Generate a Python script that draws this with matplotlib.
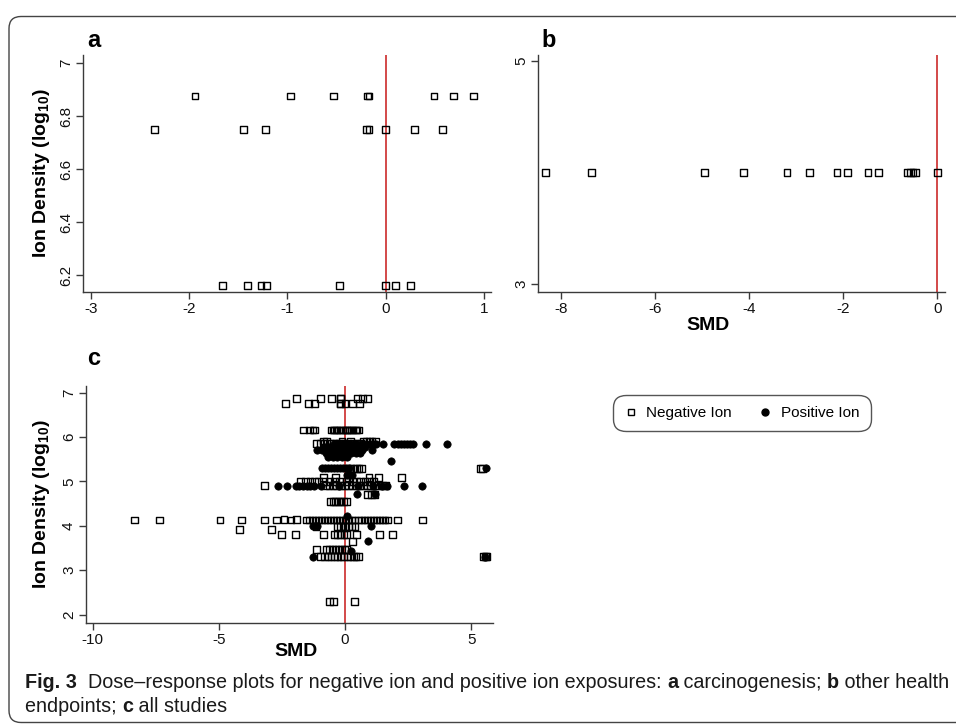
import numpy as np
import matplotlib
matplotlib.use('Agg')
import matplotlib.pyplot as plt
from matplotlib.lines import Line2D
from matplotlib.patches import FancyBboxPatch

plt.rcParams['font.family'] = ['Liberation Sans', 'DejaVu Sans']
plt.rcParams['mathtext.fontset'] = 'custom'
plt.rcParams['mathtext.rm'] = 'Liberation Sans'
plt.rcParams['mathtext.bf'] = 'Liberation Sans:bold'
plt.rcParams['axes.unicode_minus'] = False

# panel a: carcinogenesis (negative ion only)
a_neg_x = [-1.94, -0.97, -0.53, -0.19, -0.17, 0.49, 0.69, 0.89,
           -2.35, -1.45, -1.22, -0.20, -0.17, 0.00, 0.29, 0.58,
           -1.66, -1.41, -1.27, -1.21, -0.47, 0.00, 0.10, 0.25]
a_neg_y = [6.875] * 8 + [6.75] * 8 + [6.16] * 8

# panel b: other health endpoints
b_neg_x = [-8.34, -7.37, -4.96, -4.12, -3.20, -2.72, -2.14, -1.92,
           -1.48, -1.26, -0.64, -0.57, -0.52, -0.46, 0.00]
b_neg_y = [4.0] * 15

# panel c: all studies, rows of (ion density, SMD values)
c_neg_rows = [
    (6.875, [-1.94, -0.97, -0.53, -0.19, -0.17, 0.49, 0.69, 0.89]),
    (6.75, [-2.35, -1.45, -1.22, -0.20, -0.17, 0.00, 0.29, 0.58]),
    (6.16, [-1.66, -1.41, -1.27, -1.21, -0.56, -0.47, -0.41, -0.33, -0.26, -0.17,
            -0.09, 0.00, 0.06, 0.10, 0.17, 0.25, 0.31, 0.40, 0.47, 0.55]),
    (5.91, [-0.86, -0.74, -0.12, 0.22, 0.73, 0.84, 0.96, 1.07, 1.19]),
    (5.85, [-1.12, -0.98, -0.81, -0.63, -0.47, -0.33, -0.21, -0.06, 0.08, 0.31, 0.47, 0.62]),
    (5.30, [0.22, 0.33, 0.44, 0.55, 0.66, 5.36, 5.46]),
    (5.08, [-0.86, -0.37, 0.14, 0.95, 1.33, 2.22]),
    (5.00, [-1.78, -1.58, -1.39, -1.21, -1.06, -0.84, -0.62, -0.41, -0.22, 0.05,
            0.28, 0.45, 0.62, 0.79, 0.97, 1.12]),
    (4.90, [-3.20, -0.79, -0.64, -0.48, -0.33, -0.18, -0.02, 0.14, 0.29, 0.44,
            0.58, 0.73, 0.88, 1.02, 1.17, 1.31, 1.47, 1.60]),
    (4.71, [0.90, 1.04, 1.16]),
    (4.54, [-0.59, -0.47, -0.37, -0.27, -0.16, -0.06, 0.04]),
    (4.15, [-2.42, -1.91]),
    (4.13, [-8.34, -7.37, -4.96, -4.12, -3.20, -2.72, -2.14, -1.52, -1.41, -1.29,
            -1.18, -1.05, -0.93, -0.81, -0.70, -0.58, -0.45, -0.34, -0.22, -0.11,
            0.02, 0.13, 0.26, 0.37, 0.53, 0.64, 0.76, 0.88, 1.00, 1.12,
            1.24, 1.36, 1.47, 1.58, 1.70, 2.09, 3.06]),
    (3.99, [-1.15, -0.31, -0.19, -0.08, 0.03, 0.13, 0.24, 0.39]),
    (3.92, [-4.20, -2.93]),
    (3.81, [-2.51, -1.96, -0.85, -0.43, -0.31, -0.17, -0.04, 0.07, 0.46, 1.37, 1.88]),
    (3.65, [0.29]),
    (3.47, [-1.13, -0.74, -0.62, -0.51, -0.38, -0.26, -0.13, -0.01, 0.07]),
    (3.30, [-0.96, -0.81, -0.68, -0.56, -0.43, -0.31, -0.18, -0.06, 0.08, 0.20,
            0.32, 0.43, 0.53, 5.50, 5.56, 5.61]),
    (2.29, [-0.62, -0.46, 0.37]),
]
c_pos_rows = [
    (5.85, [-0.42, -0.28, -0.13, 0.02, 0.17, 0.33, 0.49, 0.66, 0.83, 0.98, 1.13,
            1.22, 1.52, 1.95, 2.08, 2.20, 2.33, 2.45, 2.58, 2.70, 3.19, 4.03]),
    (5.78, [-0.83, -0.62, -0.43, -0.22, -0.04, 0.16, 0.37, 0.58, 0.79]),
    (5.71, [-1.12, -0.91, -0.72, -0.52, -0.31, -0.12, 0.09, 0.28, 0.49, 0.68, 1.06]),
    (5.63, [-0.74, -0.56, -0.36, -0.17, 0.04, 0.23, 0.44, 0.61]),
    (5.55, [-0.69, -0.49, -0.31, -0.11, 0.07]),
    (5.47, [1.82]),
    (5.30, [-0.92, -0.81, -0.69, -0.57, -0.45, -0.33, -0.22, -0.10, 0.03, 0.14, 5.60]),
    (5.14, [0.07, 0.26]),
    (4.90, [-2.67, -2.29, -1.94, -1.81, -1.66, -1.52, -1.39, -1.25, -0.94, -0.23,
            0.52, 1.09, 1.45, 1.66, 2.34, 3.06]),
    (4.71, [0.46, 1.19]),
    (4.23, [0.07]),
    (4.00, [-1.29, -1.13, 1.03]),
    (3.65, [0.90]),
    (3.43, [0.24]),
    (3.30, [-1.29, 5.56]),
]

caption_l1 = [("Fig. 3", True),
              ("  Dose\u2013response plots for negative ion and positive ion exposures: ", False),
              ("a", True), (" carcinogenesis; ", False), ("b", True), (" other health", False)]
caption_l2 = [("endpoints; ", False), ("c", True), (" all studies", False)]

W, H = 956, 724
AX_COL = '#3a3a3a'
RED = '#d03a3a'
YLAB = r'Ion Density (log$_{\mathbf{10}}$)'


def rows_to_xy(rows):
    xs, ys = [], []
    for y, vals in rows:
        xs += vals
        ys += [y] * len(vals)
    return np.array(xs), np.array(ys)


def px_axes(fig, left, top, right, bottom):
    return fig.add_axes([left / W, 1 - bottom / H, (right - left) / W, (bottom - top) / H])


def style(ax, xticks, yticks, yfmt=None):
    for s in ['top', 'right']:
        ax.spines[s].set_visible(False)
    for s in ['left', 'bottom']:
        ax.spines[s].set_color(AX_COL)
        ax.spines[s].set_linewidth(1.0)
    ax.set_xticks(xticks)
    ax.set_yticks(yticks)
    if yfmt:
        ax.set_yticklabels(yfmt)
    ax.tick_params(length=5, width=1, color=AX_COL, labelsize=11, labelcolor='#111111', pad=2)
    ax.tick_params(axis='y', labelrotation=90)
    for lab in ax.get_yticklabels():
        lab.set_va('center')
    ax.axvline(0, color=RED, lw=1.3, zorder=2)


def neg(ax, x, y):
    ax.scatter(x, y, marker='s', s=24, facecolors='none', edgecolors='black',
               linewidths=1.0, zorder=3)


def pos(ax, x, y):
    ax.scatter(x, y, marker='o', s=28, facecolors='black', edgecolors='black',
               linewidths=0.5, zorder=4)


fig = plt.figure(figsize=(W / 100, H / 100), dpi=100)

# outer frame
frame = FancyBboxPatch((0.09, 0.015), 9.9, 7.06, boxstyle='round,pad=0,rounding_size=0.12',
                       transform=fig.dpi_scale_trans, fill=False, ec='#444444', lw=1.0)
fig.add_artist(frame)

# panel a
ax_a = px_axes(fig, 83, 55, 491, 292)
neg(ax_a, a_neg_x, a_neg_y)
ax_a.set_xlim(-3.08, 1.07)
ax_a.set_ylim(6.136, 7.03)
style(ax_a, [-3, -2, -1, 0, 1], [6.2, 6.4, 6.6, 6.8, 7.0], ['6.2', '6.4', '6.6', '6.8', '7'])
ax_a.set_ylabel(YLAB, fontsize=14, fontweight='bold')
ax_a.yaxis.set_label_coords((42 - 83) / 408, 0.5)
ax_a.yaxis.label.set_va('center')

# panel b
ax_b = px_axes(fig, 538, 55, 945, 292)
neg(ax_b, b_neg_x, b_neg_y)
ax_b.set_xlim(-8.5, 0.16)
ax_b.set_ylim(2.93, 5.05)
style(ax_b, [-8, -6, -4, -2, 0], [3, 5])
ax_b.set_xlabel('SMD', fontsize=14, fontweight='bold')
ax_b.xaxis.set_label_coords((708 - 538) / 407, (292 - 325) / 237)
ax_b.xaxis.label.set_va('center')

# panel c
ax_c = px_axes(fig, 85.7, 386, 492.7, 623)
cx, cy = rows_to_xy(c_neg_rows)
neg(ax_c, cx, cy)
px, py = rows_to_xy(c_pos_rows)
pos(ax_c, px, py)
ax_c.set_xlim(-10.28, 5.85)
ax_c.set_ylim(1.81, 7.15)
style(ax_c, [-10, -5, 0, 5], [2, 3, 4, 5, 6, 7])
ax_c.set_ylabel(YLAB, fontsize=14, fontweight='bold')
ax_c.yaxis.set_label_coords((42 - 85.7) / 407, 0.5)
ax_c.yaxis.label.set_va('center')
ax_c.set_xlabel('SMD', fontsize=14, fontweight='bold')
ax_c.xaxis.set_label_coords((296 - 85.7) / 407, (623 - 651.5) / 237)
ax_c.xaxis.label.set_va('center')

# panel letters
for letter, x, y in [('a', 87, 47), ('b', 541, 47), ('c', 87, 365)]:
    fig.text(x / W, 1 - y / H, letter, fontsize=17, fontweight='bold', va='baseline', ha='left')

# legend
handles = [Line2D([], [], ls='none', marker='s', ms=5, mfc='none', mec='black', mew=1.0),
           Line2D([], [], ls='none', marker='o', ms=5, mfc='black', mec='black')]
leg = fig.legend(handles, ['Negative Ion', 'Positive Ion'], ncol=2, loc='center',
                 bbox_to_anchor=(742 / W, 1 - 413 / H), fontsize=11, frameon=True,
                 fancybox=True, edgecolor='#555555', framealpha=1, borderpad=0.75,
                 handlelength=0.8, handletextpad=0.6, columnspacing=1.8)
leg.get_frame().set_linewidth(1.0)
leg.get_frame().set_boxstyle('round,pad=0,rounding_size=0.8')

# caption with bold runs, fitted to the measured line width
renderer = fig.canvas.get_renderer()
cap_font = ['Liberation Sans Narrow', 'Liberation Sans']


def draw_runs(runs, x0, y0, size):
    x = x0
    arts = []
    for s, b in runs:
        t = fig.text(x / W, 1 - y0 / H, s, fontsize=size, family=cap_font,
                     fontweight='bold' if b else 'normal', va='baseline', ha='left', color='#1a1a1a')
        bb = t.get_window_extent(renderer)
        x += bb.width
        arts.append(t)
    return x, arts


end, arts = draw_runs(caption_l1, 25, 688, 11)
scale = (940 - 25) / (end - 25)
for t in arts:
    t.remove()
size = 11 * scale
draw_runs(caption_l1, 25, 688, size)
draw_runs(caption_l2, 25, 712, size)

fig.savefig('out.png', dpi=100)
